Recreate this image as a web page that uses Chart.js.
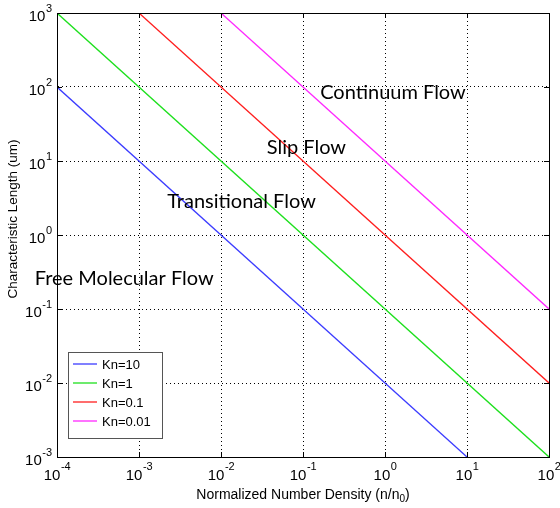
<!DOCTYPE html>
<html><head><meta charset="utf-8">
<script src="https://cdn.jsdelivr.net/npm/chart.js@4/dist/chart.umd.min.js"></script>
<style>html,body{margin:0;padding:0;background:#fff}#wrap{width:560px;height:508px}</style>
</head><body><div id="wrap"><canvas id="c"></canvas></div>
<script>
// Data
const seriesLabels = ['Kn=10', 'Kn=1', 'Kn=0.1', 'Kn=0.01'];
const seriesColors = ['#3c3cff', '#1ee01e', '#ff1e1e', '#ff28ff'];
const kn10 = [{x:1e-4, y:1e2}, {x:1e1, y:1e-3}];
const kn1 = [{x:1e-4, y:1e3}, {x:1e2, y:1e-3}];
const kn01 = [{x:1e-3, y:1e3}, {x:1e2, y:1e-2}];
const kn001 = [{x:1e-2, y:1e3}, {x:1e2, y:1e-1}];
const xTickExps = [-4, -3, -2, -1, 0, 1, 2];
const yTickExps = [-3, -2, -1, 0, 1, 2, 3];
const regionLabels = ['Continuum Flow', 'Slip Flow', 'Transitional Flow', 'Free Molecular Flow'];
const regionX = [1.25, 0.11, 0.0178, 6.6e-4];
const regionY = [85, 15, 2.8, 0.26];
const xTitle = 'Normalized Number Density (n/n';
const xTitleSub = '0';
const yTitle = 'Characteristic Length (um)';

const LABEL_FONT = '"Liberation Sans", Arial, sans-serif';
const REGION_FONT = 'Lato, "Open Sans", sans-serif';

const decorate = {
  id: 'decorate',
  afterDraw(chart) {
    const ctx = chart.ctx, a = chart.chartArea;
    const xs = chart.scales.x, ys = chart.scales.y;
    ctx.save();
    // box
    ctx.strokeStyle = '#000'; ctx.lineWidth = 1; ctx.setLineDash([]);
    ctx.strokeRect(Math.round(a.left)+0.5, Math.round(a.top)+0.5, Math.round(a.right-a.left), Math.round(a.bottom-a.top));
    // inward tick marks
    ctx.beginPath();
    xTickExps.forEach(e => {
      const px = Math.round(xs.getPixelForValue(Math.pow(10,e)))+0.5;
      ctx.moveTo(px, a.bottom); ctx.lineTo(px, a.bottom-5);
      ctx.moveTo(px, a.top); ctx.lineTo(px, a.top+5);
    });
    yTickExps.forEach(e => {
      const py = Math.round(ys.getPixelForValue(Math.pow(10,e)))+0.5;
      ctx.moveTo(a.left, py); ctx.lineTo(a.left+5, py);
      ctx.moveTo(a.right, py); ctx.lineTo(a.right-5, py);
    });
    ctx.stroke();
    // tick labels
    ctx.fillStyle = '#000';
    ctx.textBaseline = 'middle';
    const big = '15px ' + LABEL_FONT, small = '11px ' + LABEL_FONT;
    xTickExps.forEach(e => {
      const px = xs.getPixelForValue(Math.pow(10,e));
      ctx.font = big; const w1 = ctx.measureText('10').width;
      ctx.font = small; const w2 = ctx.measureText(String(e)).width;
      const x0 = px - (w1 + w2)/2;
      ctx.textAlign = 'left';
      ctx.font = big; ctx.fillText('10', x0, a.bottom + 19);
      ctx.font = small; ctx.fillText(String(e), x0 + w1 + 0.5, a.bottom + 10);
    });
    yTickExps.forEach(e => {
      const py = ys.getPixelForValue(Math.pow(10,e));
      ctx.font = small; const w2 = ctx.measureText(String(e)).width;
      const right = a.left - 5;
      ctx.textAlign = 'left';
      ctx.font = small; ctx.fillText(String(e), right - w2, py - 4);
      ctx.textAlign = 'right';
      ctx.font = big; ctx.fillText('10', right - w2 - 0.5, py + 4);
    });
    // axis titles
    const tf = '14px ' + LABEL_FONT, sf = '10px ' + LABEL_FONT;
    ctx.font = tf;
    const tw = ctx.measureText(xTitle).width;
    ctx.font = sf;
    const sw = ctx.measureText(xTitleSub).width;
    ctx.font = tf;
    const cw = ctx.measureText(')').width;
    const tot = tw + sw + cw;
    let tx = (a.left + a.right)/2 - tot/2;
    ctx.textAlign = 'left';
    ctx.fillText(xTitle, tx, 495);
    ctx.font = sf;
    ctx.fillText(xTitleSub, tx + tw, 499);
    ctx.font = tf;
    ctx.fillText(')', tx + tw + sw, 495);
    ctx.save();
    ctx.font = '13.5px ' + LABEL_FONT;
    ctx.translate(13, 219);
    ctx.rotate(-Math.PI/2);
    ctx.textAlign = 'center';
    ctx.fillText(yTitle, 0, 0);
    ctx.restore();
    // region labels
    ctx.font = '20px ' + REGION_FONT;
    ctx.textAlign = 'center';
    regionLabels.forEach((t, i) => {
      ctx.fillText(t, xs.getPixelForValue(regionX[i]), ys.getPixelForValue(regionY[i]));
    });
    // legend
    const lx = 68, ly = 352, lw = 94, lh = 86;
    ctx.fillStyle = '#fff';
    ctx.fillRect(lx, ly, lw, lh);
    ctx.strokeStyle = '#555'; ctx.lineWidth = 1;
    ctx.strokeRect(lx+0.5, ly+0.5, lw, lh);
    ctx.font = '13px ' + LABEL_FONT;
    ctx.textAlign = 'left';
    chart.data.datasets.forEach((ds, i) => {
      const yy = ly + 12 + i*19;
      ctx.strokeStyle = seriesColors[i]; ctx.lineWidth = 1.3;
      ctx.beginPath(); ctx.moveTo(lx+5, yy); ctx.lineTo(lx+29, yy); ctx.stroke();
      ctx.fillStyle = '#000';
      ctx.fillText(ds.label, lx + 34, yy + 1);
    });
    ctx.restore();
  }
};

const datasets = [kn10, kn1, kn01, kn001].map((d, i) => ({
  label: seriesLabels[i], data: d, borderColor: seriesColors[i], backgroundColor: seriesColors[i],
  borderWidth: 1.3, pointRadius: 0, fill: false, tension: 0
}));

const majorTicks = exps => (scale) => { scale.ticks = exps.map(e => ({value: Math.pow(10, e)})); };

new Chart(document.getElementById('c'), {
  type: 'line',
  data: { datasets },
  options: {
    responsive: true, maintainAspectRatio: false, animation: false,
    layout: { padding: { top: 13, right: 11, left: 0, bottom: 0 } },
    plugins: { legend: { display: false }, tooltip: { enabled: false } },
    scales: {
      x: {
        type: 'logarithmic', min: 1e-4, max: 1e2,
        afterBuildTicks: majorTicks(xTickExps),
        afterFit: s => { s.height = 51; },
        ticks: { display: false },
        grid: { color: '#000', lineWidth: 1, drawTicks: false },
        border: { display: true, color: '#000', dash: [1, 3] }
      },
      y: {
        type: 'logarithmic', min: 1e-3, max: 1e3,
        afterBuildTicks: majorTicks(yTickExps),
        afterFit: s => { s.width = 57; },
        ticks: { display: false },
        grid: { color: '#000', lineWidth: 1, drawTicks: false },
        border: { display: true, color: '#000', dash: [1, 3] }
      }
    }
  },
  plugins: [decorate]
});
</script></body></html>
